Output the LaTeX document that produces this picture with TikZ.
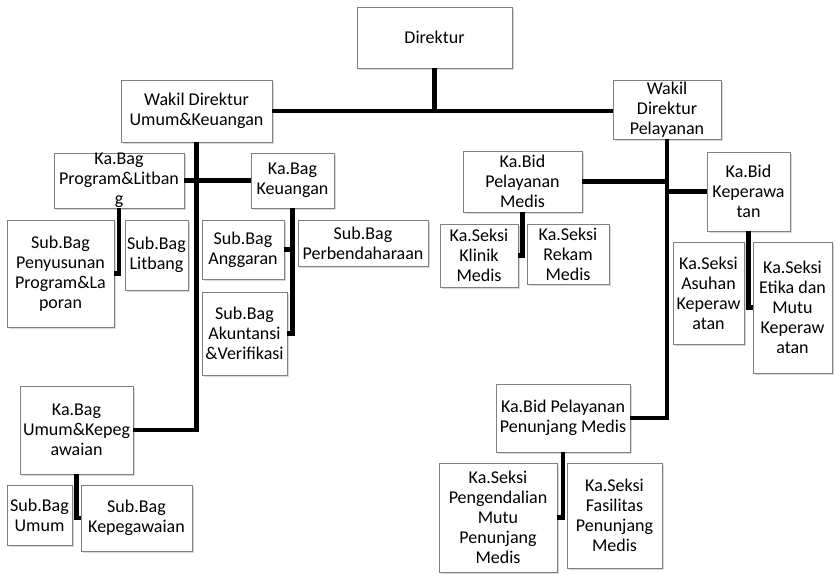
\documentclass[tikz,border=0pt]{standalone}
\usepackage{fontspec}
\setmainfont{Carlito}
\usetikzlibrary{shadows}

\begin{document}
\begin{tikzpicture}[
x=1pt, y=-1pt,
box/.style = {draw=gray, fill=white, align=center, inner sep=0pt,
    font=\fontsize{18}{20}\selectfont,
    drop shadow={shadow xshift=2pt, shadow yshift=-2pt, opacity=0.3}},
sz/.style 2 args = {minimum width=#1pt, minimum height=#2pt},
link/.style = {line width=4.5pt}
                        ]
\fill[white] (0,0) rectangle (835,573);
\useasboundingbox (0,0) rectangle (835,573);

    \node[box, sz={155}{61}] (D) at (434.5,37.5) {Direktur};
    \node[box, sz={151}{62}] (WU) at (196.5,111) {Wakil Direktur\\Umum\&Keuangan};
    \node[box, sz={108}{59}] (WP) at (667,109.5) {Wakil\\Direktur\\Pelayanan};

    \node[box, sz={130}{55}] (KP) at (119,180.5) {Ka.Bag\\Program\&Litban\\g};
    \node[box, sz={83}{55}] (KK) at (292.5,180.5) {Ka.Bag\\Keuangan};
    \node[box, sz={107}{107}] (SP) at (60.5,273.5) {Sub.Bag\\Penyusunan\\Program\&La\\poran};
    \node[box, sz={63}{70}] (SL) at (156.5,255) {Sub.Bag\\Litbang};
    \node[box, sz={82}{59}] (SA) at (243,249.5) {Sub.Bag\\Anggaran};
    \node[box, sz={130}{46}] (SB) at (363,243) {Sub.Bag\\Perbendaharaan};
    \node[box, sz={85}{83}] (SK) at (244.5,333.5) {Sub.Bag\\Akuntansi\\\&Verifikasi};
    \node[box, sz={113}{88}] (KU) at (76.5,430) {Ka.Bag\\Umum\&Kepeg\\awaian};
    \node[box, sz={65}{60}] (SU) at (39.5,515) {Sub.Bag\\Umum};
    \node[box, sz={111}{66}] (SG) at (136.5,518) {Sub.Bag\\Kepegawaian};

    \node[box, sz={119}{61}] (BM) at (522.5,181.5) {Ka.Bid\\Pelayanan\\Medis};
    \node[box, sz={78}{63}] (KL) at (479,255.5) {Ka.Seksi\\Klinik\\Medis};
    \node[box, sz={82}{60}] (RM) at (568,254) {Ka.Seksi\\Rekam\\Medis};
    \node[box, sz={83}{79}] (BK) at (748.5,191.5) {Ka.Bid\\Keperawa\\tan};
    \node[box, sz={71}{102}] (AK) at (708.5,293) {Ka.Seksi\\Asuhan\\Keperaw\\atan};
    \node[box, sz={79}{131}] (EM) at (792.5,307.5) {Ka.Seksi\\Etika dan\\Mutu\\Keperaw\\atan};
    \node[box, sz={134}{68}] (BP) at (563,418) {Ka.Bid Pelayanan\\Penunjang Medis};
    \node[box, sz={118}{109}] (PM) at (498,517.5) {Ka.Seksi\\Pengendalian\\Mutu\\Penunjang\\Medis};
    \node[box, sz={95}{105}] (FP) at (614.5,515.5) {Ka.Seksi\\Fasilitas\\Penunjang\\Medis};

    \draw[link] (D.south) -- (D.south |- WU.east);
    \draw[link] (WU.east) -- (WP.west |- WU.east);

    \draw[link] (WU.south) |- (KU.east);
    \draw[link] (KP.east) -- (KK.west);
    \draw[link] (KP.south) |- (SP.east);
    \draw[link] (KK.south) |- (SK.east);
    \draw[link] (KK.south |- SA.east) -- (SA.east);
    \draw[link] (KU.south) |- (SG.west);

    \draw[link] (WP.south) |- (BP.east);
    \draw[link] (BM.east) -- (WP.south |- BM.east);
    \draw[link] (WP.south |- BK.west) -- (BK.west);
    \draw[link] (BM.south) |- (KL.east);
    \draw[link] (BK.south) |- (EM.west);
    \draw[link] (BP.south) |- (PM.east);

\end{tikzpicture}
\end{document}
